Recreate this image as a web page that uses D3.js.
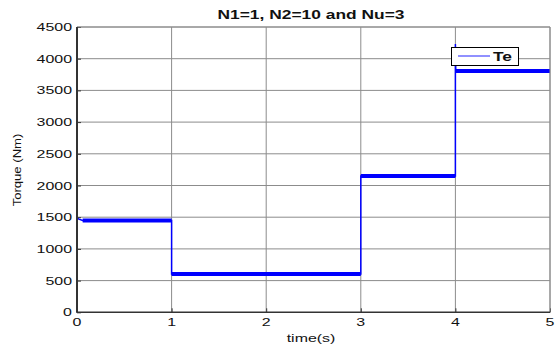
<!DOCTYPE html>
<html>
<head>
<meta charset="utf-8">
<script src="https://cdn.jsdelivr.net/npm/d3@7"></script>
<style>
  body { margin: 0; background: #fff; }
  text { font-family: "Liberation Sans", Arial, sans-serif; fill: #111; }
</style>
</head>
<body>
<div id="chart"></div>
<script>
// step signal (time in s, torque in Nm)
var times  = [0, 0,    0.02, 0.06, 1,    1,   3,   3,    4,    4,    4.004, 5];
var torque = [0, 1490, 1470, 1448, 1448, 605, 605, 2150, 2150, 4230, 3805,  3805];

// ripple bands on each plateau
var bandStart = [0.06, 1, 3, 4];
var bandEnd   = [1,    3, 4, 5];
var bandLevel = [1448, 605, 2150, 3805];

var xTicks = [0, 1, 2, 3, 4, 5];
var yTicks = [0, 500, 1000, 1500, 2000, 2500, 3000, 3500, 4000, 4500];
var legendLabels = ["Te"];

var W = 555, H = 347;
var margin = {top: 27, right: 5, bottom: 34.7, left: 77};
var width = W - margin.left - margin.right,
    height = H - margin.top - margin.bottom;
var sx = 1.45; // the picture is stretched sideways

var svg = d3.select("#chart")
  .append("svg")
    .attr("width", W)
    .attr("height", H);

var g = svg.append("g")
    .attr("transform", "translate(" + margin.left + "," + margin.top + ")");

var x = d3.scaleLinear().domain([0, 5]).range([0, width]);
var y = d3.scaleLinear().domain([0, 4500]).range([height, 0]);

// grid
g.append("g").selectAll("line")
  .data(yTicks.slice(1))
  .enter().append("line")
    .attr("x1", 0).attr("x2", width)
    .attr("y1", d => y(d)).attr("y2", d => y(d))
    .attr("stroke", "#8c8c8c").attr("stroke-width", 1);

g.append("g").selectAll("line")
  .data(xTicks.slice(1))
  .enter().append("line")
    .attr("x1", d => x(d)).attr("x2", d => x(d))
    .attr("y1", 0).attr("y2", height)
    .attr("stroke", "#8c8c8c").attr("stroke-width", 1);

// small inward ticks
g.append("g").call(d3.axisLeft(y).tickValues(yTicks).tickSize(-4).tickFormat(""))
  .call(s => s.select(".domain").remove())
  .selectAll("line").attr("stroke", "#333");
g.append("g").attr("transform", "translate(0," + height + ")")
  .call(d3.axisBottom(x).tickValues(xTicks).tickSize(-4).tickFormat(""))
  .call(s => s.select(".domain").remove())
  .selectAll("line").attr("stroke", "#333");

// the signal
var pts = times.map((t, i) => [t, torque[i]]);
g.append("path")
  .datum(pts)
  .attr("fill", "none")
  .attr("stroke", "#0000ff")
  .attr("stroke-width", 1.5)
  .attr("d", d3.line().x(d => x(d[0])).y(d => y(d[1])));

g.append("g").selectAll("line")
  .data(bandLevel)
  .enter().append("line")
    .attr("x1", (d, i) => x(bandStart[i]))
    .attr("x2", (d, i) => x(bandEnd[i]))
    .attr("y1", d => y(d)).attr("y2", d => y(d))
    .attr("stroke", "#0000ff")
    .attr("stroke-width", 4);

// box: dark left/bottom, grey top/right
g.append("line").attr("x1", 0).attr("x2", width).attr("y1", 0).attr("y2", 0)
  .attr("stroke", "#8c8c8c");
g.append("line").attr("x1", width).attr("x2", width).attr("y1", 0).attr("y2", height)
  .attr("stroke", "#8c8c8c");
g.append("line").attr("x1", 0).attr("x2", 0).attr("y1", 0).attr("y2", height + 0.5)
  .attr("stroke", "#333").attr("stroke-width", 2);
g.append("line").attr("x1", 0).attr("x2", width).attr("y1", height).attr("y2", height)
  .attr("stroke", "#333").attr("stroke-width", 1.5);

// tick labels
g.append("g").selectAll("text")
  .data(yTicks)
  .enter().append("text")
    .attr("transform", d => "translate(-5," + (y(d) + 4) + ") scale(" + sx + ",1)")
    .attr("text-anchor", "end")
    .style("font-size", "11px")
    .text(d => d);

g.append("g").selectAll("text")
  .data(xTicks)
  .enter().append("text")
    .attr("transform", d => "translate(" + x(d) + "," + (height + 13.7) + ") scale(" + sx + ",1)")
    .attr("text-anchor", "middle")
    .style("font-size", "11px")
    .text(d => d);

// axis labels and title
svg.append("text")
  .attr("transform", "translate(311,342) scale(" + sx + ",1)")
  .attr("text-anchor", "middle")
  .style("font-size", "11px")
  .text("time(s)");

svg.append("text")
  .attr("transform", "translate(21,170) rotate(-90) scale(1.19,1)")
  .attr("text-anchor", "middle")
  .style("font-size", "11px")
  .text("Torque (Nm)");

svg.append("text")
  .attr("transform", "translate(311,19) scale(" + sx + ",1)")
  .attr("text-anchor", "middle")
  .style("font-size", "12px")
  .style("font-weight", "bold")
  .text("N1=1, N2=10 and Nu=3");

// legend
var leg = svg.append("g").attr("transform", "translate(451,47)");
leg.append("rect")
  .attr("x", 0.5).attr("y", 0.5)
  .attr("width", 67).attr("height", 18)
  .attr("fill", "#fff").attr("stroke", "#000").attr("stroke-width", 1);
leg.selectAll("line.key")
  .data(legendLabels)
  .enter().append("line")
    .attr("class", "key")
    .attr("x1", 7).attr("x2", 39)
    .attr("y1", (d, i) => 9 + i * 18).attr("y2", (d, i) => 9 + i * 18)
    .attr("stroke", "#6b6bff").attr("stroke-width", 1.5);
leg.selectAll("text")
  .data(legendLabels)
  .enter().append("text")
    .attr("transform", (d, i) => "translate(42," + (14 + i * 18) + ") scale(" + sx + ",1)")
    .style("font-size", "12px")
    .style("font-weight", "bold")
    .text(d => d);
</script>
</body>
</html>
